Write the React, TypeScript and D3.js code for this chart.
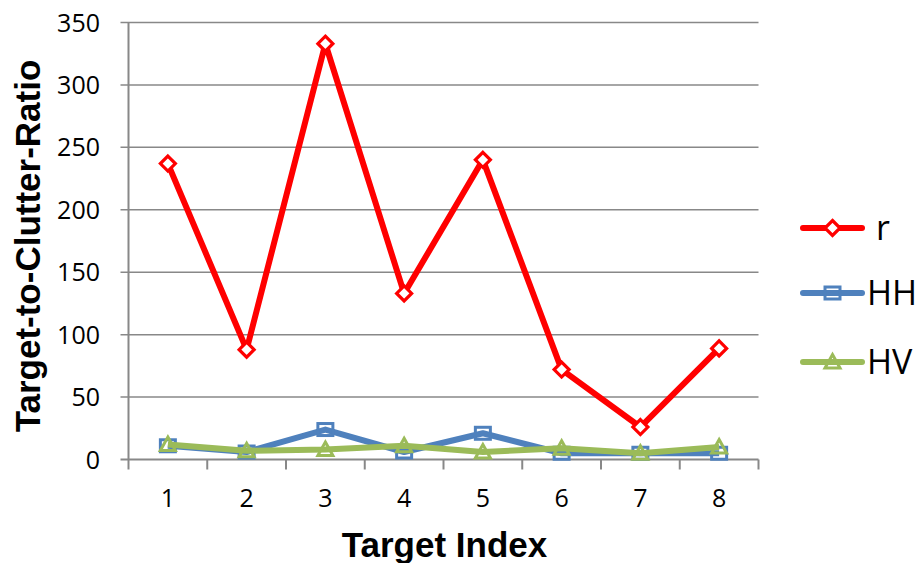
import React from "react";
import * as d3 from "d3";

const categories = ["1", "2", "3", "4", "5", "6", "7", "8"];
const rValues = [237, 88, 333, 133, 240, 72, 26, 89];
const hhValues = [11, 6, 24, 6, 21, 5, 5, 5];
const hvValues = [12, 7, 8, 11, 6, 9, 5, 10];
const yTicks = [0, 50, 100, 150, 200, 250, 300, 350];
const seriesNames = ["r", "HH", "HV"];
const seriesColors = ["#ff0000", "#4f81bd", "#9bbb59"];

const W = 920, H = 563;
const left = 128.5, right = 758.5, top = 22.5, bottom = 459.5;

export default function App() {
  const x = d3.scaleBand<string>().domain(categories).range([left, right]);
  const y = d3.scaleLinear().domain([0, 350]).range([bottom, top]);
  const line = d3
    .line<number>()
    .x((_, i) => (x(categories[i]) as number) + x.bandwidth() / 2)
    .y((d) => y(d));
  const allSeries = [rValues, hhValues, hvValues];
  const font = "'Liberation Sans', Arial, sans-serif";
  const tickFont = "'Open Sans', 'Liberation Sans', sans-serif";

  const marker = (k: number, cx: number, cy: number, key: string) => {
    const c = seriesColors[k];
    if (k === 0) {
      const r = 7.5;
      return (
        <path key={key} d={`M${cx},${cy - r}L${cx + r},${cy}L${cx},${cy + r}L${cx - r},${cy}Z`} fill="white" stroke={c} strokeWidth={3.2} />
      );
    }
    if (k === 1) {
      return <rect key={key} x={cx - 7.5} y={cy - 6} width={15} height={12} fill="white" fillOpacity={0} stroke={c} strokeWidth={3} />;
    }
    const r = 7.5;
    return (
      <path key={key} d={`M${cx},${cy - r}L${cx + r},${cy + r * 0.8}L${cx - r},${cy + r * 0.8}Z`} fill="white" fillOpacity={0} stroke={c} strokeWidth={3} />
    );
  };

  return (
    <svg width={W} height={H} style={{ position: "absolute", left: 0, top: 0, background: "white" }}>
      {yTicks.map((t) => (
        <g key={t}>
          <line x1={left - 8} x2={right} y1={y(t)} y2={y(t)} stroke="#888" strokeWidth={t === 0 ? 2 : 1.5} />
          <text x={100} y={y(t)} dy="0.36em" textAnchor="end" fontFamily={tickFont} fontSize={25} fill="#000">
            {t}
          </text>
        </g>
      ))}
      <line x1={left} x2={left} y1={top} y2={bottom} stroke="#888" strokeWidth={2} />
      {categories.concat(["end"]).map((c, i) => {
        const xx = left + i * x.step();
        return <line key={"t" + i} x1={xx} x2={xx} y1={bottom} y2={bottom + 10} stroke="#888" strokeWidth={2} />;
      })}
      {categories.map((c) => (
        <text key={"l" + c} x={(x(c) as number) + x.bandwidth() / 2} y={498} dy="0.36em" textAnchor="middle" fontFamily={tickFont} fontSize={25}>
          {c}
        </text>
      ))}
      {[0, 1, 2].map((k) => (
        <g key={"s" + k}>
          <path d={line(allSeries[k]) as string} fill="none" stroke={seriesColors[k]} strokeWidth={6} strokeLinejoin="round" />
          {allSeries[k].map((v, i) => marker(k, (x(categories[i]) as number) + x.bandwidth() / 2, y(v), `m${k}-${i}`))}
        </g>
      ))}
      <text x={444.5} y={557} textAnchor="middle" fontFamily={font} fontWeight="bold" fontSize={35}>
        Target Index
      </text>
      <text transform={`translate(27,246) rotate(-90)`} dy="0.36em" textAnchor="middle" fontFamily={font} fontWeight="bold" fontSize={35}>
        Target-to-Clutter-Ratio
      </text>
      {seriesNames.map((n, k) => {
        const ly = [228, 293, 362][k];
        return (
          <g key={"lg" + n}>
            <line x1={803} x2={862} y1={ly} y2={ly} stroke={seriesColors[k]} strokeWidth={6} strokeLinecap="round" />
            {marker(k, 832.5, ly, "lm" + k)}
            <text x={k === 0 ? 876 : 867} y={ly} dy="0.36em" fontFamily={tickFont} fontSize={34}>
              {n}
            </text>
          </g>
        );
      })}
    </svg>
  );
}
